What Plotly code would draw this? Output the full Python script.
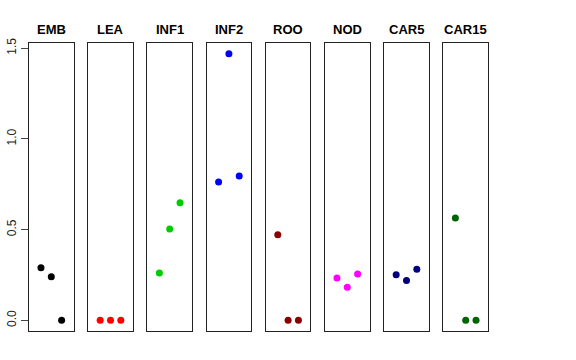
import plotly.graph_objects as go

categories = ["EMB", "LEA", "INF1", "INF2", "ROO", "NOD", "CAR5", "CAR15"]
colors = ["#000000", "#FF0000", "#00CD00", "#0000FF", "#8B0000", "#FF00FF", "#000080", "#006400"]
rep = [1, 2, 3]
values = {
    "EMB": [0.29, 0.24, 0.0],
    "LEA": [0.0, 0.0, 0.0],
    "INF1": [0.261, 0.503, 0.648],
    "INF2": [0.762, 1.470, 0.795],
    "ROO": [0.472, 0.0, 0.0],
    "NOD": [0.233, 0.182, 0.255],
    "CAR5": [0.251, 0.220, 0.281],
    "CAR15": [0.564, 0.0, 0.0],
}
ytick_vals = [0.0, 0.5, 1.0, 1.5]
ytick_text = ["0.0", "0.5", "1.0", "1.5"]

W, H = 576, 360
ml, mr, mt, mb = 29, 88, 43, 29
plot_w = W - ml - mr
n = len(categories)
pw = 44.6
gap = (plot_w - n * pw) / (n - 1)

ymax = max(max(v) for v in values.values())
ypad = ymax * 0.04
yrange = [-ypad, ymax + ypad]
xrange = [-0.16, 4.16]

fig = go.Figure()
layout = dict(
    width=W, height=H,
    margin=dict(l=ml, r=mr, t=mt, b=mb, autoexpand=False),
    plot_bgcolor="white", paper_bgcolor="white",
    showlegend=False,
    font=dict(family="Liberation Sans, Arial, sans-serif", size=12, color="black"),
    annotations=[],
)
for i, cat in enumerate(categories):
    idx = "" if i == 0 else str(i + 1)
    x0 = (i * (pw + gap)) / plot_w
    x1 = (i * (pw + gap) + pw) / plot_w
    fig.add_trace(go.Scatter(
        x=rep, y=values[cat], mode="markers",
        marker=dict(color=colors[i], size=7),
        xaxis="x" + idx, yaxis="y" + idx, hoverinfo="skip",
    ))
    layout["xaxis" + idx] = dict(
        domain=[x0, min(x1, 1)], range=xrange, showticklabels=False, ticks="",
        showgrid=False, zeroline=False, showline=True, mirror=True,
        linecolor="#222", linewidth=1, anchor="y" + idx, fixedrange=True,
        automargin=False,
    )
    yax = dict(
        domain=[0, 1], range=yrange, showgrid=False, zeroline=False,
        showline=True, mirror=True, linecolor="#222", linewidth=1,
        anchor="x" + idx, fixedrange=True, automargin=False,
    )
    if i == 0:
        yax.update(tickvals=ytick_vals, ticktext=ytick_text, ticks="outside",
                   ticklen=7, tickcolor="#444", tickangle=-90,
                   tickfont=dict(size=12, color="#222"))
    else:
        yax.update(showticklabels=False, ticks="")
    layout["yaxis" + idx] = yax
    layout["annotations"].append(dict(
        text="<b>" + cat + "</b>", xref="x" + idx + " domain", yref="paper",
        x=0.5, y=1, yanchor="bottom", yshift=4, showarrow=False,
        font=dict(size=13, color="black"),
    ))
fig.update_layout(**layout)
fig.write_html(
    "out.html",
    config={"displayModeBar": False, "staticPlot": True},
    post_script="document.body.style.margin='0';document.body.style.overflow='hidden';",
)
